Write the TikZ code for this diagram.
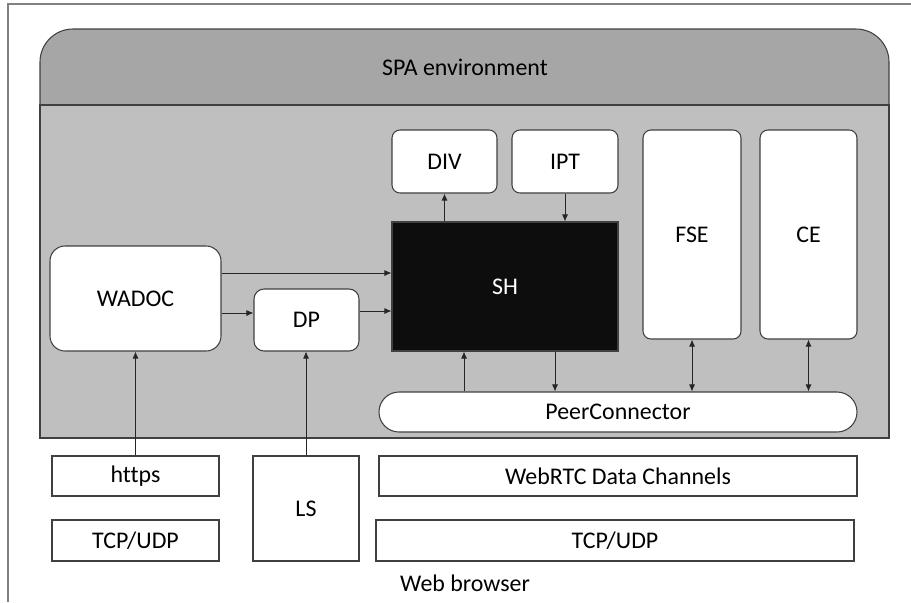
\documentclass[tikz,border=0pt]{standalone}
\usepackage{fontspec}
\setmainfont[Ligatures=NoCommon]{Carlito}
\usepackage{xcolor}
\usetikzlibrary{arrows.meta}

\definecolor{spahead}{HTML}{A6A6A6}
\definecolor{spabody}{HTML}{BFBFBF}
\definecolor{shfill}{HTML}{0D0D0D}
\definecolor{edge}{HTML}{404040}

\begin{document}
\begin{tikzpicture}[x=0.2mm, y=-0.2mm,
        every node/.style = {font=\fontsize{13.6}{16}\selectfont, inner sep=0pt},
        comp/.style = {draw=edge, line width=0.6pt, fill=white, rounded corners=1.6mm},
        layer/.style = {draw=edge, line width=0.6pt, fill=white},
        arr/.style = {draw=black!85, line width=0.5pt, -{Latex[length=1.4mm, width=1.2mm]}},
        biarr/.style = {draw=black!85, line width=0.5pt, {Latex[length=1.4mm, width=1.2mm]}-{Latex[length=1.4mm, width=1.2mm]}}]
        \useasboundingbox (0,0) rectangle (911,602);

        \begin{scope}
            \draw[black!50, line width=0.8pt] (911,4) -- (8,4) -- (8,602);

            \draw[edge, line width=0.6pt, fill=spahead, rounded corners=6.6mm] (40,29) rectangle (889,140);
            \draw[edge, line width=0.6pt, fill=spabody] (40,105) rectangle (889,438);
            \node (spa) at (465,67) {SPA environment};
            \node (web) at (465,583) {Web browser};
        \end{scope}

        \begin{scope}
            \node[comp, minimum width=21mm, minimum height=12.6mm] (div) at (444.5,161.5) {DIV};
            \node[comp, minimum width=21.2mm, minimum height=12.6mm] (ipt) at (565,161.5) {IPT};
            \node[comp, minimum width=19.6mm, minimum height=41.8mm] (fse) at (692,234.5) {FSE};
            \node[comp, minimum width=19.4mm, minimum height=41.8mm] (ce) at (808.5,234.5) {CE};
            \node[draw=edge, line width=0.6pt, fill=shfill, text=white, minimum width=45.2mm, minimum height=25.8mm] (sh) at (505,286.5) {SH};
            \node[comp, rounded corners=3mm, minimum width=34.2mm, minimum height=21mm] (wadoc) at (135.5,298.5) {WADOC};
            \node[comp, rounded corners=2mm, minimum width=21mm, minimum height=12.4mm] (dp) at (306.5,320) {DP};
            \node[comp, rounded corners=4mm, minimum width=95.6mm, minimum height=8mm] (pc) at (618,412) {PeerConnector};
        \end{scope}

        \begin{scope}
            \node[layer, minimum width=33.4mm, minimum height=8mm] (https) at (135.5,476) {https};
            \node[layer, minimum width=33.4mm, minimum height=8.2mm] (tcpl) at (135.5,540.5) {TCP/UDP};
            \node[layer, minimum width=21.2mm, minimum height=21mm] (ls) at (306,508.5) {LS};
            \node[layer, minimum width=95.6mm, minimum height=8mm] (webrtc) at (618,476) {WebRTC Data Channels};
            \node[layer, minimum width=95.6mm, minimum height=8.2mm] (tcpr) at (615,540.5) {TCP/UDP};
        \end{scope}

        \draw[arr] ([yshift=5.1mm]wadoc.east) -- ([yshift=5.1mm]wadoc.east -| sh.west);
        \draw[arr] ([yshift=1.4mm]dp.west -| wadoc.east) -- ([yshift=1.4mm]dp.west);
        \draw[arr] ([yshift=1.8mm]dp.east) -- ([yshift=1.8mm]dp.east -| sh.west);
        \draw[arr] (sh.north -| div.south) -- (div.south);
        \draw[arr] (ipt.south) -- (ipt.south |- sh.north);
        \draw[arr] ([xshift=-8.2mm]sh.south |- pc.north) -- ([xshift=-8.2mm]sh.south);
        \draw[arr] ([xshift=10mm]sh.south) -- ([xshift=10mm]sh.south |- pc.north);
        \draw[biarr] (fse.south) -- (fse.south |- pc.north);
        \draw[biarr] (ce.south) -- (ce.south |- pc.north);
        \draw[arr] (https.north) -- (wadoc.south);
        \draw[arr] (ls.north) -- (ls.north |- dp.south);
\end{tikzpicture}
\end{document}
